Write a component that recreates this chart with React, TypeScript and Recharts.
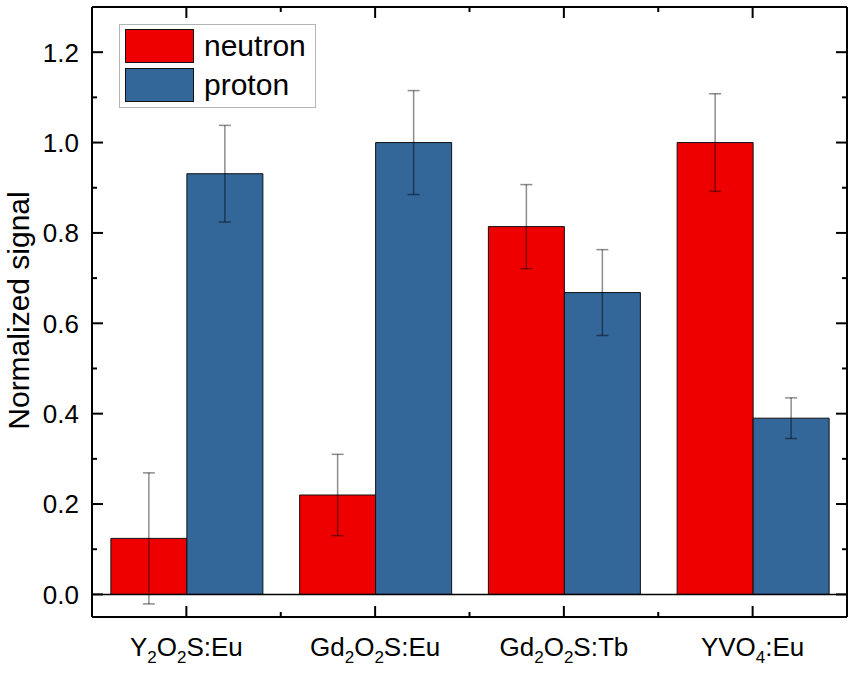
import { Bar, ComposedChart, ErrorBar, Legend, Line, ReferenceLine, XAxis, YAxis } from "recharts";

const categories = ["Y_2O_2S:Eu", "Gd_2O_2S:Eu", "Gd_2O_2S:Tb", "YVO_4:Eu"];
const neutron = [0.124, 0.22, 0.814, 1.0];
const neutronErr = [0.145, 0.09, 0.093, 0.108];
const proton = [0.931, 1.0, 0.668, 0.39];
const protonErr = [0.107, 0.115, 0.095, 0.045];
const yMajor = [0, 0.2, 0.4, 0.6, 0.8, 1.0, 1.2];
const yMinor = [0.1, 0.3, 0.5, 0.7, 0.9, 1.1];

const W = 856;
const H = 674;
const LEFT = 92;
const RIGHT = 9;
const BAND = (W - LEFT - RIGHT) / categories.length;
const FONT = "'Liberation Sans', Arial, sans-serif";

const yTicks = [...yMajor, ...yMinor].sort((a, b) => a - b);
const isMajor = (v: number) => yMajor.some((m) => Math.abs(m - v) < 1e-6);

const data = categories.map((name, i) => ({
  name,
  neutron: neutron[i],
  neutronErr: neutronErr[i],
  proton: proton[i],
  protonErr: protonErr[i],
}));

// "Gd_2O_2S:Eu" -> text with subscripts
function renderLabel(label: string) {
  const parts = label.split(/_(\d)/);
  const out: any[] = [];
  let down = false;
  parts.forEach((p, i) => {
    if (!p) return;
    const sub = i % 2 === 1;
    let dy = 0;
    if (sub && !down) {
      dy = 6.5;
      down = true;
    } else if (!sub && down) {
      dy = -6.5;
      down = false;
    }
    out.push(
      <tspan key={i} dy={dy} fontSize={sub ? 17 : 26}>
        {p}
      </tspan>
    );
  });
  return out;
}

function BottomTick({ x, y, payload, index }: any) {
  return (
    <g>
      <line x1={x} y1={y} x2={x} y2={y - 11} stroke="#000" strokeWidth={2} />
      {index < categories.length - 1 && (
        <line x1={x + BAND / 2} y1={y} x2={x + BAND / 2} y2={y - 5} stroke="#000" strokeWidth={2} />
      )}
      <text x={x} y={y + 39} textAnchor="middle" fontSize={26} fill="#000" fontFamily={FONT}>
        {renderLabel(payload.value)}
      </text>
    </g>
  );
}

function TopTick({ x, y, index }: any) {
  return (
    <g>
      <line x1={x} y1={y} x2={x} y2={y + 11} stroke="#000" strokeWidth={2} />
      {index < categories.length - 1 && (
        <line x1={x + BAND / 2} y1={y} x2={x + BAND / 2} y2={y + 5} stroke="#000" strokeWidth={2} />
      )}
    </g>
  );
}

function LeftTick({ x, y, payload }: any) {
  const major = isMajor(payload.value);
  return (
    <g>
      <line x1={x} y1={y} x2={x + (major ? 11 : 5)} y2={y} stroke="#000" strokeWidth={2} />
      {major && (
        <text x={x - 13} y={y} dy="0.36em" textAnchor="end" fontSize={26} fill="#000" fontFamily={FONT}>
          {payload.value.toFixed(1)}
        </text>
      )}
    </g>
  );
}

function RightTick({ x, y, payload }: any) {
  const major = isMajor(payload.value);
  return <line x1={x} y1={y} x2={x - (major ? 11 : 5)} y2={y} stroke="#000" strokeWidth={2} />;
}

function LegendBox({ payload }: any) {
  const items = (payload || []).filter((e: any) => e.type !== "none");
  return (
    <div
      style={{
        width: 197,
        height: 84,
        boxSizing: "border-box",
        border: "1px solid #b4b4b4",
        background: "#fff",
        position: "relative",
        fontFamily: FONT,
      }}
    >
      {items.map((e: any, i: number) => (
        <div
          key={e.value}
          style={{ position: "absolute", left: 5, top: 4 + i * 39, display: "flex", alignItems: "center", height: 34 }}
        >
          <span
            style={{
              display: "inline-block",
              width: 69,
              height: 34,
              boxSizing: "border-box",
              background: e.color,
              border: "1px solid #111",
            }}
          />
          <span style={{ marginLeft: 10, fontSize: 30, lineHeight: "34px", color: "#000" }}>{e.value}</span>
        </div>
      ))}
    </div>
  );
}

function YTitle({ viewBox }: any) {
  const cy = viewBox.y + viewBox.height / 2 - 1.5;
  return (
    <text
      x={28.5}
      y={cy}
      transform={`rotate(-90 28.5 ${cy})`}
      textAnchor="middle"
      fontSize={30}
      fill="#000"
      fontFamily={FONT}
    >
      Normalized signal
    </text>
  );
}

export default function App() {
  return (
    <div style={{ position: "absolute", left: 0, top: 0, fontFamily: FONT }}>
      <ComposedChart
        width={W}
        height={H}
        data={data}
        margin={{ top: 6, right: RIGHT - 1, bottom: 0, left: 0 }}
        barCategoryGap="10%"
        barGap={0}
      >
        <XAxis
          dataKey="name"
          height={57}
          tickSize={0}
          tickMargin={0}
          tickLine={false}
          axisLine={{ stroke: "#000", strokeWidth: 2 }}
          tick={<BottomTick />}
          interval={0}
        />
        <XAxis
          xAxisId="top"
          orientation="top"
          dataKey="name"
          height={1}
          tickSize={0}
          tickMargin={0}
          tickLine={false}
          axisLine={{ stroke: "#000", strokeWidth: 2 }}
          tick={<TopTick />}
          interval={0}
        />
        <YAxis
          type="number"
          domain={[-0.05, 1.3]}
          ticks={yTicks}
          interval={0}
          width={LEFT}
          tickSize={0}
          tickMargin={0}
          tickLine={false}
          axisLine={{ stroke: "#000", strokeWidth: 2 }}
          tick={<LeftTick />}
          label={<YTitle />}
          allowDataOverflow
        />
        <YAxis
          yAxisId="right"
          orientation="right"
          type="number"
          domain={[-0.05, 1.3]}
          ticks={yTicks}
          interval={0}
          width={1}
          tickSize={0}
          tickMargin={0}
          tickLine={false}
          axisLine={{ stroke: "#000", strokeWidth: 2 }}
          tick={<RightTick />}
          allowDataOverflow
        />
        <ReferenceLine y={0} stroke="#000" strokeWidth={1.5} />
        <Legend
          content={<LegendBox />}
          layout="horizontal"
          verticalAlign="middle"
          align="center"
          wrapperStyle={{ left: 119, top: 24, width: 197, height: 84 }}
        />
        <Bar dataKey="neutron" name="neutron" fill="#ee0000" stroke="#111" strokeWidth={1} isAnimationActive={false}>
          <ErrorBar dataKey="neutronErr" width={6} stroke="rgba(0,0,0,0.45)" strokeWidth={1.5} isAnimationActive={false} />
        </Bar>
        <Bar dataKey="proton" name="proton" fill="#336699" stroke="#111" strokeWidth={1} isAnimationActive={false}>
          <ErrorBar dataKey="protonErr" width={6} stroke="rgba(0,0,0,0.45)" strokeWidth={1.5} isAnimationActive={false} />
        </Bar>
        <Line
          xAxisId="top"
          yAxisId="right"
          dataKey="proton"
          stroke="none"
          dot={false}
          activeDot={false}
          legendType="none"
          isAnimationActive={false}
        />
      </ComposedChart>
    </div>
  );
}
